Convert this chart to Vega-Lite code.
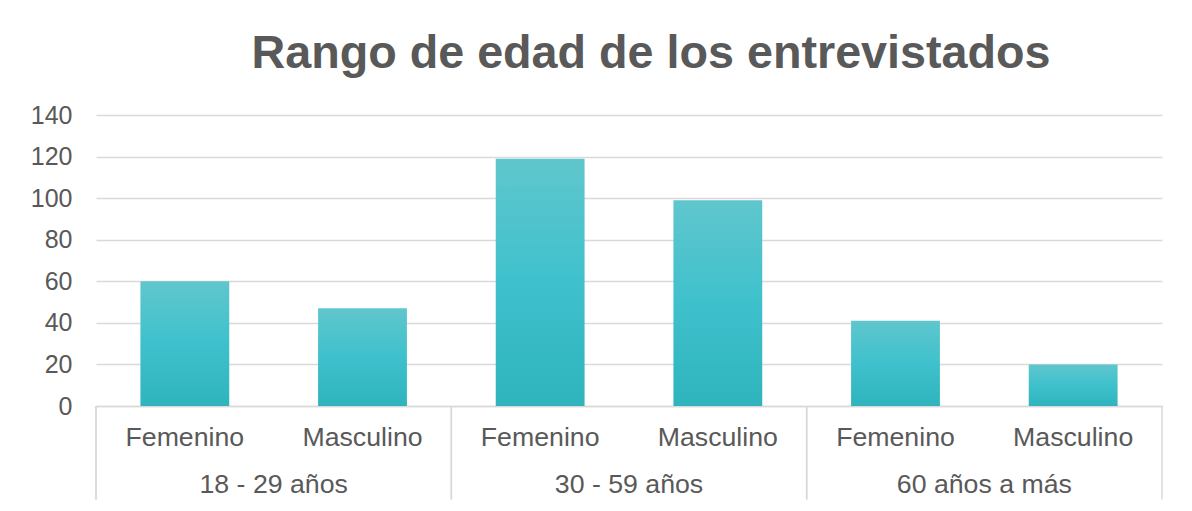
{
  "$schema": "https://vega.github.io/schema/vega-lite/v6.json",
  "width": 1066,
  "height": 291,
  "autosize": {"type": "none"},
  "padding": {"left": 96, "top": 115, "right": 30, "bottom": 105},
  "background": "white",
  "title": {
    "text": "Rango de edad de los entrevistados",
    "font": "Liberation Sans",
    "fontSize": 46.7,
    "fontWeight": "bold",
    "color": "#595959",
    "anchor": "middle",
    "baseline": "alphabetic",
    "offset": -12,
    "dx": 22
  },
  "config": {
    "view": {"stroke": null},
    "font": "Liberation Sans"
  },
  "data": {
    "values": [
      {"grupo": "18 - 29 años", "sexo": "Femenino", "n": 60},
      {"grupo": "18 - 29 años", "sexo": "Masculino", "n": 47},
      {"grupo": "30 - 59 años", "sexo": "Femenino", "n": 119},
      {"grupo": "30 - 59 años", "sexo": "Masculino", "n": 99},
      {"grupo": "60 años a más", "sexo": "Femenino", "n": 41},
      {"grupo": "60 años a más", "sexo": "Masculino", "n": 20}
    ]
  },
  "layer": [
    {
      "mark": {
        "type": "bar",
        "color": {
          "gradient": "linear",
          "x1": 0, "y1": 0, "x2": 0, "y2": 1,
          "stops": [
            {"offset": 0, "color": "#60c6cd"},
            {"offset": 0.5, "color": "#3ec1cc"},
            {"offset": 1, "color": "#2fb3bc"}
          ]
        }
      },
      "encoding": {
        "x": {
          "field": "grupo",
          "type": "nominal",
          "sort": null,
          "scale": {"paddingInner": 0, "paddingOuter": 0},
          "axis": {
            "title": null,
            "labelAngle": 0,
            "ticks": false,
            "tickSize": 0,
            "labelPadding": 65,
            "labelFontSize": 26.7,
            "labelColor": "#595959",
            "domainColor": "#d9d9d9",
            "domainWidth": 1.5
          }
        },
        "xOffset": {
          "field": "sexo",
          "type": "nominal",
          "sort": null,
          "scale": {"paddingInner": 0.5, "paddingOuter": 0.25}
        },
        "y": {
          "field": "n",
          "type": "quantitative",
          "scale": {"domain": [0, 140], "nice": false},
          "axis": {
            "title": null,
            "values": [0, 20, 40, 60, 80, 100, 120, 140],
            "ticks": false,
            "domain": false,
            "labelPadding": 24,
            "labelFontSize": 25,
            "labelColor": "#595959",
            "gridColor": "#d9d9d9",
            "gridWidth": 1.3
          }
        }
      }
    },
    {
      "mark": {"type": "text", "baseline": "middle", "dy": 32, "fontSize": 26.7, "color": "#595959"},
      "encoding": {
        "x": {"field": "grupo", "type": "nominal", "sort": null},
        "xOffset": {"field": "sexo", "type": "nominal", "sort": null},
        "y": {"datum": 0},
        "text": {"field": "sexo"}
      }
    },
    {
      "mark": {"type": "rule", "color": "#d9d9d9", "strokeWidth": 1.5},
      "encoding": {
        "x": {"field": "grupo", "type": "nominal", "sort": null, "bandPosition": 0},
        "y": {"datum": 0},
        "y2": {"datum": -45}
      }
    },
    {
      "transform": [{"filter": "datum.grupo === '60 años a más' && datum.sexo === 'Masculino'"}],
      "mark": {"type": "rule", "color": "#d9d9d9", "strokeWidth": 1.5},
      "encoding": {
        "x": {"field": "grupo", "type": "nominal", "sort": null, "bandPosition": 1},
        "y": {"datum": 0},
        "y2": {"datum": -45}
      }
    }
  ]
}
